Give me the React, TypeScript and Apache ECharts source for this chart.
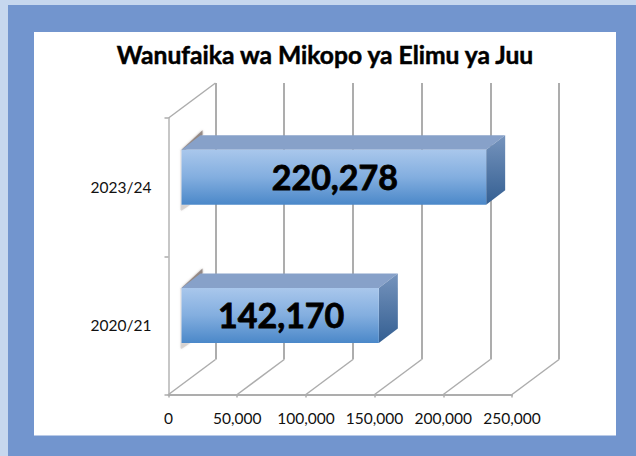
import React, { useEffect, useRef } from "react";
import * as echarts from "echarts";

const titleText = "Wanufaika wa Mikopo ya Elimu ya Juu";
const categories = ["2020/21", "2023/24"];
const beneficiaries = [142170, 220278];
const xTicks = [0, 50000, 100000, 150000, 200000, 250000];

const FONT = "Lato, 'Open Sans', sans-serif";
const GRID_LINE = "#adadad";
const DEPTH_X = 47;
const DEPTH_Y = -35;
const BAR_X = 13;
const BAR_Y = -10;
const BAR_H = 55;
const BAR_DX = 19;
const BAR_DY = -14.5;

const fmt = (v: number) => v.toLocaleString("en-US");

export default function App() {
  const ref = useRef<HTMLDivElement>(null);
  useEffect(() => {
    const chart = echarts.init(ref.current!, null, { renderer: "svg" });
    chart.setOption({
      animation: false,
      backgroundColor: "#7295ce",
      title: {
        text: titleText,
        left: 325,
        top: 37,
        textAlign: "center",
        textStyle: {
          fontFamily: FONT,
          fontWeight: 700,
          fontSize: 24.6,
          color: "#000",
          textBorderColor: "#000",
          textBorderWidth: 0.5,
        },
      },
      graphic: [
        { type: "rect", z: -10, shape: { x: 0, y: 0, width: 636, height: 5 }, style: { fill: "#c6d7ee" } },
        { type: "rect", z: -10, shape: { x: 0, y: 0, width: 8, height: 456 }, style: { fill: "#c6d7ee" } },
        { type: "rect", z: -10, shape: { x: 34, y: 32, width: 582, height: 403.5 }, style: { fill: "#fff" } },
      ],
      grid: [
        { left: 168.5, top: 118, width: 343.5, height: 276.5 },
        { left: 215.5, top: 83, width: 343.5, height: 276.5 },
      ],
      xAxis: [
        {
          gridIndex: 0,
          type: "value",
          min: 0,
          max: 250000,
          interval: 50000,
          axisLine: { show: true, onZero: false, lineStyle: { color: GRID_LINE, width: 2 } },
          axisTick: { show: true, length: 3, lineStyle: { color: GRID_LINE, width: 1.5 } },
          splitLine: { show: false },
          axisLabel: {
            fontFamily: FONT,
            fontSize: 15.5,
            color: "#111",
            margin: 15,
            formatter: (v: number) => fmt(v),
          },
        },
        {
          gridIndex: 1,
          type: "value",
          min: 0,
          max: 250000,
          interval: 50000,
          axisLine: { show: false },
          axisTick: { show: false },
          axisLabel: { show: false },
          splitLine: { show: true, lineStyle: { color: GRID_LINE, width: 2 } },
        },
      ],
      yAxis: [
        {
          gridIndex: 0,
          type: "category",
          data: categories,
          axisLine: { show: true, lineStyle: { color: "#b4b4b4", width: 1.5 } },
          axisTick: { show: true, length: 4, lineStyle: { color: GRID_LINE, width: 1.5 } },
          axisLabel: {
            fontFamily: FONT,
            fontSize: 15.5,
            color: "#111",
            margin: 17,
            padding: [4, 0, 0, 0],
          },
        },
        {
          gridIndex: 1,
          type: "category",
          data: categories,
          axisLine: { show: false },
          axisTick: { show: false },
          axisLabel: { show: false },
        },
      ],
      series: [
        {
          type: "custom",
          name: "floor",
          xAxisIndex: 0,
          yAxisIndex: 0,
          coordinateSystem: "cartesian2d",
          z: 1,
          silent: true,
          data: xTicks.map((t) => [t, 0]),
          renderItem: (params: any, api: any) => {
            const x0 = api.coord([api.value(0), 0])[0];
            const cs = params.coordSys;
            const yB = cs.y + cs.height;
            const lineStyle = { stroke: GRID_LINE, lineWidth: 1.5, fill: "none" };
            const children: any[] = [
              { type: "line", shape: { x1: x0, y1: yB, x2: x0 + DEPTH_X, y2: yB + DEPTH_Y }, style: lineStyle },
            ];
            if (api.value(0) === 0) {
              children.push({
                type: "line",
                shape: { x1: x0, y1: cs.y, x2: x0 + DEPTH_X, y2: cs.y + DEPTH_Y },
                style: lineStyle,
              });
            }
            return { type: "group", children };
          },
        },
        {
          type: "custom",
          name: "Wanufaika",
          xAxisIndex: 0,
          yAxisIndex: 0,
          coordinateSystem: "cartesian2d",
          z: 5,
          data: beneficiaries.map((v, i) => [v, i]),
          renderItem: (_: any, api: any) => {
            const v = api.value(0);
            const p = api.coord([v, api.value(1)]);
            const o = api.coord([0, api.value(1)]);
            const l = o[0] + BAR_X;
            const r = p[0] + BAR_X + 2;
            const t = p[1] + BAR_Y - BAR_H / 2;
            const b = t + BAR_H;
            const grad = (stops: [number, string][]) =>
              new echarts.graphic.LinearGradient(0, 0, 0, 1, stops.map(([offset, color]) => ({ offset, color })));
            return {
              type: "group",
              children: [
                {
                  type: "polygon",
                  shape: {
                    points: [
                      [l, t],
                      [l + BAR_DX + 2, t + BAR_DY - 5],
                      [l + BAR_DX + 2, t + BAR_DY],
                      [l + 3, t + 1],
                    ],
                  },
                  style: { fill: "#8c7f7a", opacity: 0.85, shadowBlur: 2, shadowColor: "#a89e9a" },
                },
                {
                  type: "polygon",
                  shape: {
                    points: [
                      [l - 1, t],
                      [l, t],
                      [l, b],
                      [l + 9, b],
                      [l, b + 6],
                      [l - 1, b + 5],
                    ],
                  },
                  style: { fill: "#a89e9a", opacity: 0.35, shadowBlur: 2, shadowColor: "#c8c2be" },
                },
                {
                  type: "polygon",
                  shape: {
                    points: [
                      [l, t],
                      [l + BAR_DX, t + BAR_DY],
                      [r + BAR_DX, t + BAR_DY],
                      [r, t],
                    ],
                  },
                  style: { fill: "#87a1c9" },
                },
                {
                  type: "polygon",
                  shape: {
                    points: [
                      [r, t],
                      [r + BAR_DX, t + BAR_DY],
                      [r + BAR_DX, b + BAR_DY],
                      [r, b],
                    ],
                  },
                  style: {
                    fill: grad([
                      [0, "#7694bd"],
                      [1, "#345f92"],
                    ]),
                  },
                },
                {
                  type: "rect",
                  shape: { x: l, y: t, width: r - l, height: BAR_H },
                  style: {
                    fill: grad([
                      [0, "#a9c7ec"],
                      [0.5, "#83aedf"],
                      [1, "#4b88c9"],
                    ]),
                  },
                },
                {
                  type: "text",
                  x: (l + r) / 2 + 1,
                  y: (t + b) / 2 - 1,
                  style: {
                    text: fmt(v),
                    fill: "#000",
                    fontFamily: FONT,
                    fontWeight: 700,
                    fontSize: 34,
                    align: "center",
                    verticalAlign: "middle",
                    stroke: "#000",
                    lineWidth: 0.8,
                  },
                },
              ],
            };
          },
        },
      ],
    });
    chart.setOption({ title: { left: 320 } });
    return () => chart.dispose();
  }, []);
  return <div ref={ref} style={{ position: "fixed", left: 0, top: 0, width: 636, height: 456 }} />;
}
